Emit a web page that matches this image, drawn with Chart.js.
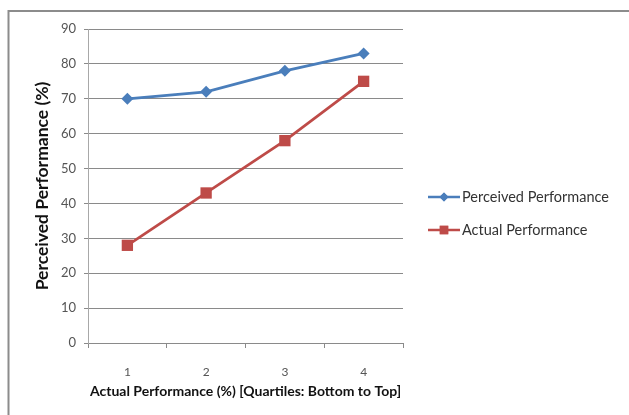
<!DOCTYPE html>
<html>
<head>
  <script src="https://cdn.jsdelivr.net/npm/chart.js"></script>
  <style>
    html, body { margin:0; padding:0; background:#fff; }
    #wrap { position:relative; width:629px; height:415px; }
  </style>
</head>
<body>
<div id="wrap"><canvas id="myChart" width="629" height="415"></canvas></div>
<script>
  // values
  var quartiles = ["1", "2", "3", "4"];
  var perceived = [70, 72, 78, 83];
  var actual = [28, 43, 58, 75];
  var seriesNames = ["Perceived Performance", "Actual Performance"];
  var xTitle = "Actual Performance (%) [Quartiles: Bottom to Top]";
  var yTitle = "Perceived Performance (%)";

  var FONT = "Lato, 'Open Sans', sans-serif";

  // grey frame round the chart (only top & left edges are visible)
  var framePlugin = {
    id: 'frame',
    beforeDraw: function(chart) {
      var ctx = chart.ctx;
      ctx.save();
      ctx.strokeStyle = '#8c8c8c';
      ctx.lineWidth = 2;
      ctx.beginPath();
      ctx.moveTo(629, 11);
      ctx.lineTo(8.5, 11);
      ctx.lineTo(8.5, 415);
      ctx.stroke();
      ctx.restore();
    }
  };

  // excel-like legend: short line with the marker in the middle
  var legendPlugin = {
    id: 'sideLegend',
    afterDraw: function(chart) {
      var ctx = chart.ctx;
      var x0 = 428, x1 = 460, y = 197, gap = 33;
      ctx.save();
      chart.data.datasets.forEach(function(ds, i) {
        var yy = y + i * gap;
        ctx.strokeStyle = ds.borderColor;
        ctx.lineWidth = 2.5;
        ctx.beginPath();
        ctx.moveTo(x0, yy);
        ctx.lineTo(x1, yy);
        ctx.stroke();
        ctx.fillStyle = ds.pointBackgroundColor;
        Chart.helpers.drawPoint(ctx, {pointStyle: ds.pointStyle, radius: ds.pointRadius * 0.75, borderWidth: 0}, (x0 + x1) / 2, yy);
        ctx.fill();
        ctx.fillStyle = '#333';
        ctx.font = "14.5px " + FONT;
        ctx.textBaseline = 'middle';
        ctx.fillText(ds.label, x1 + 2, yy);
      });
      ctx.restore();
    }
  };

  new Chart(document.getElementById('myChart'), {
    type: 'line',
    data: {
      labels: quartiles,
      datasets: [
        {
          label: seriesNames[0], data: perceived,
          borderColor: '#4a7ebb', backgroundColor: '#4a7ebb',
          pointBackgroundColor: '#4a7ebb', pointBorderColor: '#4a7ebb',
          borderWidth: 2.75, pointStyle: 'rectRot', pointRadius: 6, pointBorderWidth: 0,
          tension: 0
        },
        {
          label: seriesNames[1], data: actual,
          borderColor: '#be4b48', backgroundColor: '#be4b48',
          pointBackgroundColor: '#be4b48', pointBorderColor: '#be4b48',
          borderWidth: 2.75, pointStyle: 'rect', pointRadius: 8, pointBorderWidth: 0,
          tension: 0
        }
      ]
    },
    options: {
      responsive: false,
      animation: false,
      devicePixelRatio: 1,
      layout: { padding: { left: 0, top: 29, right: 226, bottom: 0 } },
      plugins: { legend: { display: false }, tooltip: { enabled: false } },
      scales: {
        x: {
          type: 'category',
          offset: true,
          afterFit: function(s) { s.height = 72; },
          grid: { offset: true, drawOnChartArea: false, drawTicks: true, tickLength: 5, color: '#8a8a8a' },
          border: { color: '#8a8a8a', width: 1 },
          ticks: { color: '#555', font: { family: FONT, size: 12 }, padding: 17 },
          title: { display: true, text: xTitle, color: '#111', font: { family: FONT, size: 14, weight: 'bold' }, padding: { top: 0, bottom: 15 } }
        },
        y: {
          min: 0, max: 90,
          afterFit: function(s) { s.width = 88; },
          ticks: { stepSize: 10, color: '#555', font: { family: FONT, size: 13 }, padding: 8 },
          grid: { color: '#8a8a8a', tickLength: 4, lineWidth: 1 },
          border: { color: '#a8a8a8', width: 1 },
          title: { display: true, text: yTitle, color: '#111', font: { family: FONT, size: 17.5, weight: 'bold' }, padding: { top: 32, bottom: 0 } }
        }
      }
    },
    plugins: [framePlugin, legendPlugin]
  });
</script>
</body>
</html>
